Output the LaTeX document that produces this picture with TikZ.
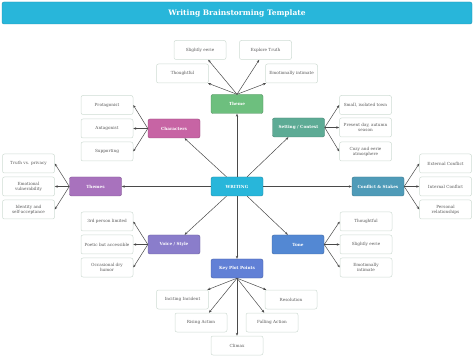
\documentclass[tikz,border=0pt]{standalone}
\usepackage{fontspec}
\setmainfont{DejaVu Serif}
\usepackage{xcolor}
\usepackage{tikz}
\usetikzlibrary{arrows.meta, positioning, calc}

\definecolor{titlecyan}{HTML}{28B6DA}
\definecolor{themegreen}{HTML}{6DBF7E}
\definecolor{charpink}{HTML}{C764A4}
\definecolor{setteal}{HTML}{5DAB95}
\definecolor{themespurple}{HTML}{A872BD}
\definecolor{conflictblue}{HTML}{4F9BB8}
\definecolor{voiceviolet}{HTML}{8A7DCB}
\definecolor{toneblue}{HTML}{5388D3}
\definecolor{plotblue}{HTML}{6180D6}
\definecolor{leafline}{HTML}{CFDCD4}
\definecolor{linkgray}{HTML}{4A4A4A}

\begin{document}
\begin{tikzpicture}[
    x=1pt, y=-1pt,
    cat/.style={draw=#1!75!black, fill=#1, rounded corners=2pt, minimum width=52pt, minimum height=19pt,
        text=white, font=\fontsize{4.2}{5}\selectfont\bfseries, align=center, inner sep=1pt},
    leaf/.style={draw=leafline, line width=0.5pt, fill=white, rounded corners=2pt, minimum width=52pt, minimum height=19pt,
        text=black!65, font=\fontsize{4.2}{5}\selectfont, align=center, inner sep=1pt},
    link/.style={draw=linkgray, line width=0.5pt, -{Stealth[length=3pt, width=2.4pt]}}
]
    \useasboundingbox (0,0) rectangle (474,358);

    \node[draw=titlecyan!80!black, fill=titlecyan, rounded corners=2pt, minimum width=470pt, minimum height=22pt,
        text=white, font=\fontsize{7.5}{9}\selectfont\bfseries] (title) at (237,13) {Writing Brainstorming Template};

    \node[cat=titlecyan] (writing) at (237,186.5) {WRITING};

    \node[cat=themegreen] (theme) at (237,104) {Theme};
    \node[cat=charpink] (characters) at (174,128.5) {Characters};
    \node[cat=setteal] (setting) at (298.5,127.5) {Setting / Context};
    \node[cat=themespurple] (themes) at (95.5,186.5) {Themes};
    \node[cat=conflictblue] (conflict) at (378,186.5) {Conflict \& Stakes};
    \node[cat=voiceviolet] (voice) at (174,244.5) {Voice / Style};
    \node[cat=toneblue] (tone) at (298,244.5) {Tone};
    \node[cat=plotblue] (plot) at (237,268.5) {Key Plot Points};

    \node[leaf] (theme1) at (200,50) {Slightly eerie};
    \node[leaf] (theme2) at (265.5,50) {Explore Truth};
    \node[leaf] (theme3) at (182.5,73.5) {Thoughtful};
    \node[leaf] (theme4) at (291.5,73.5) {Emotionally intimate};

    \node[leaf] (char1) at (107,105) {Protagonist};
    \node[leaf] (char2) at (107,128.5) {Antagonist};
    \node[leaf] (char3) at (107,151.5) {Supporting};

    \node[leaf] (set1) at (365.5,105) {Small, isolated town};
    \node[leaf] (set2) at (365.5,127.5) {Present day, autumn\\season};
    \node[leaf] (set3) at (365.5,151.5) {Cozy and eerie\\atmosphere};

    \node[leaf] (them1) at (28.5,163.5) {Truth vs. privacy};
    \node[leaf] (them2) at (28.5,186.5) {Emotional\\vulnerability};
    \node[leaf] (them3) at (28.5,209.5) {Identity and\\self-acceptance};

    \node[leaf] (con1) at (445.5,163.5) {External Conflict};
    \node[leaf] (con2) at (445.5,186.5) {Internal Conflict};
    \node[leaf] (con3) at (445.5,209.5) {Personal\\relationships};

    \node[leaf] (voice1) at (107,221.5) {3rd person limited};
    \node[leaf] (voice2) at (107,244.5) {Poetic but accessible};
    \node[leaf] (voice3) at (107,267.5) {Occasional dry\\humor};

    \node[leaf] (tone1) at (366,221.5) {Thoughtful};
    \node[leaf] (tone2) at (366,244.5) {Slightly eerie};
    \node[leaf] (tone3) at (366,267.5) {Emotionally\\intimate};

    \node[leaf] (plot1) at (182.5,299.5) {Inciting Incident};
    \node[leaf] (plot2) at (291,299.5) {Resolution};
    \node[leaf] (plot3) at (201,322.5) {Rising Action};
    \node[leaf] (plot4) at (272,322.5) {Falling Action};
    \node[leaf] (plot5) at (237,345.5) {Climax};

    \foreach \c in {theme, characters, setting, themes, conflict, voice, tone, plot}
        \draw[link] (writing) -- (\c);

    \foreach \l in {theme1, theme2, theme3, theme4}
        \draw[link] (theme.north) -- (\l);
    \foreach \l in {plot1, plot2, plot3, plot4, plot5}
        \draw[link] (plot.south) -- (\l);
    \foreach \l in {char1, char2, char3}
        \draw[link] (characters.west) -- (\l.east);
    \foreach \l in {voice1, voice2, voice3}
        \draw[link] (voice.west) -- (\l.east);
    \foreach \l in {them1, them2, them3}
        \draw[link] (themes.west) -- (\l.east);
    \foreach \l in {set1, set2, set3}
        \draw[link] (setting.east) -- (\l.west);
    \foreach \l in {tone1, tone2, tone3}
        \draw[link] (tone.east) -- (\l.west);
    \foreach \l in {con1, con2, con3}
        \draw[link] (conflict.east) -- (\l.west);
\end{tikzpicture}
\end{document}
